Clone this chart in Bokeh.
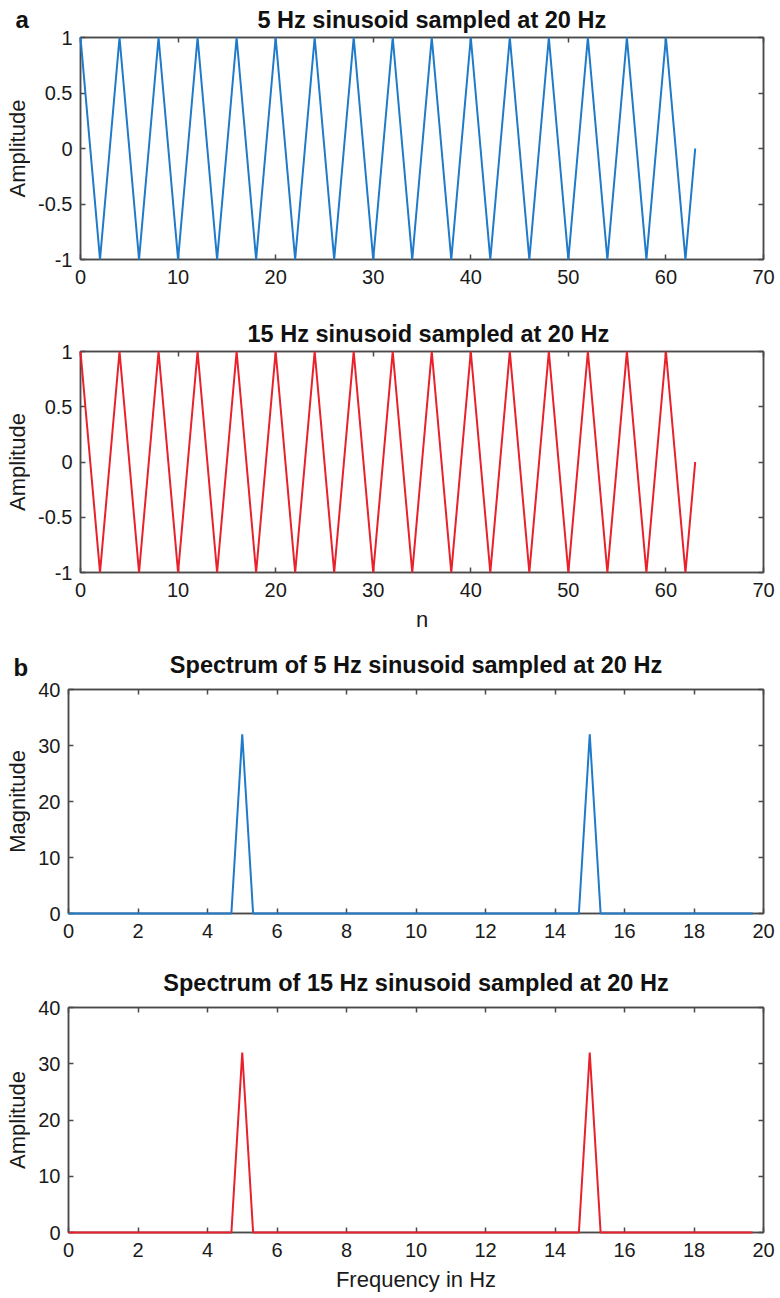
import math
from bokeh.plotting import figure
from bokeh.models import LinearAxis, FixedTicker, Label, Range1d, Title, Plot
from bokeh.layouts import column, row
from bokeh.embed import file_html
from bokeh.resources import INLINE

# ---------------- data ----------------
n_samples = list(range(64))
x_5hz = [1, 0, -1, 0, 1, 0, -1, 0, 1, 0, -1, 0, 1, 0, -1, 0,
         1, 0, -1, 0, 1, 0, -1, 0, 1, 0, -1, 0, 1, 0, -1, 0,
         1, 0, -1, 0, 1, 0, -1, 0, 1, 0, -1, 0, 1, 0, -1, 0,
         1, 0, -1, 0, 1, 0, -1, 0, 1, 0, -1, 0, 1, 0, -1, 0]
x_15hz = [1, 0, -1, 0, 1, 0, -1, 0, 1, 0, -1, 0, 1, 0, -1, 0,
          1, 0, -1, 0, 1, 0, -1, 0, 1, 0, -1, 0, 1, 0, -1, 0,
          1, 0, -1, 0, 1, 0, -1, 0, 1, 0, -1, 0, 1, 0, -1, 0,
          1, 0, -1, 0, 1, 0, -1, 0, 1, 0, -1, 0, 1, 0, -1, 0]
freq_hz = [k * 20 / 64 for k in range(64)]
mag_5hz = [0, 0, 0, 0, 0, 0, 0, 0, 0, 0, 0, 0, 0, 0, 0, 0,
           32, 0, 0, 0, 0, 0, 0, 0, 0, 0, 0, 0, 0, 0, 0, 0,
           0, 0, 0, 0, 0, 0, 0, 0, 0, 0, 0, 0, 0, 0, 0, 0,
           32, 0, 0, 0, 0, 0, 0, 0, 0, 0, 0, 0, 0, 0, 0, 0]
mag_15hz = [0, 0, 0, 0, 0, 0, 0, 0, 0, 0, 0, 0, 0, 0, 0, 0,
            32, 0, 0, 0, 0, 0, 0, 0, 0, 0, 0, 0, 0, 0, 0, 0,
            0, 0, 0, 0, 0, 0, 0, 0, 0, 0, 0, 0, 0, 0, 0, 0,
            32, 0, 0, 0, 0, 0, 0, 0, 0, 0, 0, 0, 0, 0, 0, 0]

time_xticks = [0, 10, 20, 30, 40, 50, 60, 70]
time_yticks = [-1, -0.5, 0, 0.5, 1]
time_ylabels = {-1: "-1", -0.5: "-0.5", 0: "0", 0.5: "0.5", 1: "1"}
freq_xticks = [0, 2, 4, 6, 8, 10, 12, 14, 16, 18, 20]
freq_yticks = [0, 10, 20, 30, 40]

# ---------------- style / layout ----------------
FONT = "Liberation Sans"
FRAME = "#4a4a4a"
TXT = "#1a1a1a"
BLUE = "#1f7bc9"
RED = "#e8212b"
PAGE_W, PAGE_H = 780, 1298
STRIP = 30                      # left strip holding y labels and panel letters
PW = PAGE_W - STRIP             # width of each plot
FA = {"frame_align": False} if "frame_align" in Plot.properties() else {}

# (fig top, fig height, frame top, frame bottom, frame left)
G1 = (0, 305, 37, 259, 80)
G2 = (305, 335, 351, 572, 80)
G3 = (640, 316, 689, 913, 68)
G4 = (956, 342, 1007, 1232, 68)
FRAME_RIGHT = 763


def make_fig(g, xr, yr, title, align, offset, standoff):
    top, h, ft, fb, fl = g
    p = figure(width=PW, height=h, x_range=Range1d(*xr), y_range=Range1d(*yr),
               output_backend="svg", toolbar_location=None,
               min_border_left=fl - STRIP, min_border_right=PAGE_W - FRAME_RIGHT,
               min_border_top=ft - top, min_border_bottom=top + h - fb, **FA)
    p.grid.visible = False
    p.outline_line_color = FRAME
    p.outline_line_width = 1.5
    p.background_fill_color = "white"
    p.border_fill_color = "white"
    p.title = Title(text=title, align=align, vertical_align="top", text_font=FONT,
                    text_font_size="23.5px", text_font_style="bold",
                    text_color="#111111", offset=offset, standoff=standoff)
    return p


def style_axes(p, xticks, yticks, yover, xlabel):
    for ax, ticks in ((p.xaxis[0], xticks), (p.yaxis[0], yticks)):
        ax.ticker = FixedTicker(ticks=ticks)
        ax.major_tick_in = 5
        ax.major_tick_out = 0
        ax.minor_tick_line_color = None
        ax.axis_line_color = FRAME
        ax.axis_line_width = 1.5
        ax.major_tick_line_color = FRAME
        ax.major_tick_line_width = 1.5
        ax.major_label_text_font = FONT
        ax.major_label_text_font_size = "20px"
        ax.major_label_text_color = TXT
        ax.axis_label_text_font = FONT
        ax.axis_label_text_font_size = "22px"
        ax.axis_label_text_font_style = "normal"
        ax.axis_label_text_color = TXT
    p.xaxis[0].major_label_standoff = 10
    p.yaxis[0].major_label_standoff = 8
    if yover:
        p.yaxis[0].major_label_overrides = yover
    if xlabel:
        p.xaxis[0].axis_label = xlabel
        p.xaxis[0].axis_label_standoff = 7
    # tick marks on the top and right edges of the box (no labels there)
    for side, ticks in (("above", xticks), ("right", yticks)):
        ax = LinearAxis(ticker=FixedTicker(ticks=ticks),
                        major_label_text_font_size="0px",
                        major_label_text_color=None,
                        major_label_standoff=0, axis_label_standoff=0,
                        major_tick_in=5, major_tick_out=0,
                        minor_tick_line_color=None,
                        axis_line_color=FRAME, axis_line_width=1.5,
                        major_tick_line_color=FRAME, major_tick_line_width=1.5)
        p.add_layout(ax, side)


# Panel a, top
p1 = make_fig(G1, (0, 70), (-1, 1), "5 Hz sinusoid sampled at 20 Hz", "left", 177, 6)
p1.line(n_samples, x_5hz, line_color=BLUE, line_width=2, level="overlay")
style_axes(p1, time_xticks, time_yticks, time_ylabels, None)

# Panel a, bottom
p2 = make_fig(G2, (0, 70), (-1, 1), "15 Hz sinusoid sampled at 20 Hz", "left", 167, 6)
p2.line(n_samples, x_15hz, line_color=RED, line_width=2, level="overlay")
style_axes(p2, time_xticks, time_yticks, time_ylabels, "n")

# Panel b, top
p3 = make_fig(G3, (0, 20), (0, 40), "Spectrum of 5 Hz sinusoid sampled at 20 Hz",
              "center", 0, 19)
p3.line(freq_hz, mag_5hz, line_color=BLUE, line_width=2, level="overlay")
style_axes(p3, freq_xticks, freq_yticks, None, None)

# Panel b, bottom
p4 = make_fig(G4, (0, 20), (0, 40), "Spectrum of 15 Hz sinusoid sampled at 20 Hz",
              "center", 0, 19)
p4.line(freq_hz, mag_15hz, line_color=RED, line_width=2, level="overlay")
style_axes(p4, freq_xticks, freq_yticks, None, "Frequency in Hz")

# Left strip: y-axis titles and panel letters (page pixel coordinates)
strip = figure(width=STRIP, height=PAGE_H, x_range=Range1d(0, STRIP),
               y_range=Range1d(PAGE_H, 0), output_backend="svg",
               toolbar_location=None, x_axis_location=None, y_axis_location=None,
               min_border=0, min_border_left=0, min_border_right=0,
               min_border_top=0, min_border_bottom=0, **FA)
strip.grid.visible = False
strip.outline_line_color = None
strip.background_fill_color = "white"
strip.border_fill_color = "white"

for g, text in ((G1, "Amplitude"), (G2, "Amplitude"), (G3, "Magnitude"), (G4, "Amplitude")):
    strip.add_layout(Label(x=17, y=(g[2] + g[3]) / 2, text=text, angle=math.pi / 2,
                           text_align="center", text_baseline="middle",
                           text_font=FONT, text_font_size="22px", text_color=TXT))

for (x, y, text) in ((15, 19, "a"), (13, 667, "b")):
    strip.add_layout(Label(x=x, y=y, text=text, text_align="left",
                           text_baseline="alphabetic", text_font=FONT,
                           text_font_size="24px", text_font_style="bold",
                           text_color="#111111"))

layout = row(strip, column(p1, p2, p3, p4, spacing=0), spacing=0)
open("out.html", "w").write(file_html(layout, INLINE))
